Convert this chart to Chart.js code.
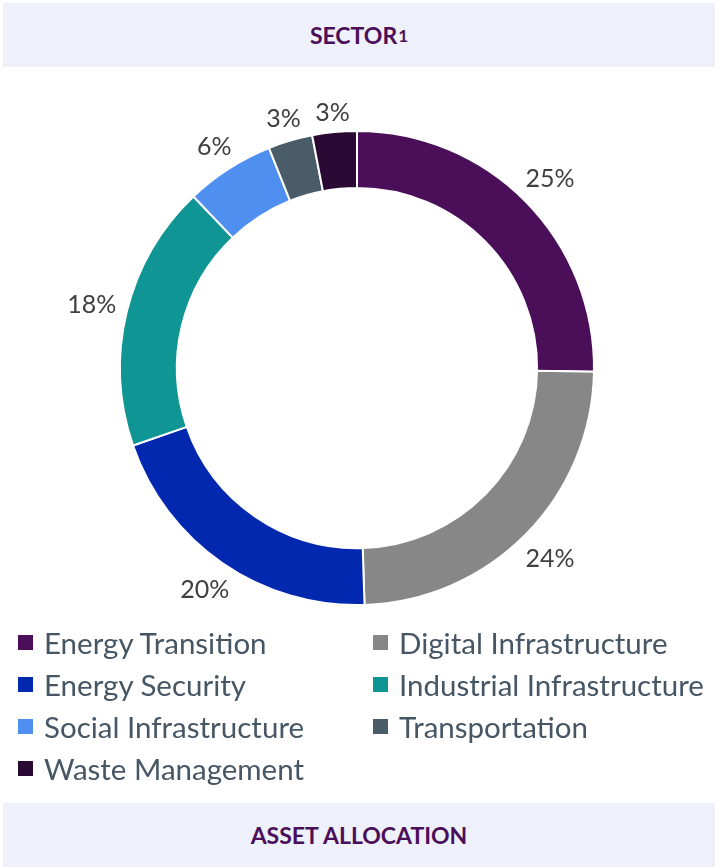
<!DOCTYPE html>
<html>
<head>
<meta charset="utf-8">
<script src="https://cdn.jsdelivr.net/npm/chart.js@4.4.1/dist/chart.umd.min.js"></script>
<style>
  body { margin: 0; background: #fff; font-family: Lato, "Open Sans", sans-serif; }
  #wrap { position: relative; width: 718px; height: 867px; overflow: hidden; }
  .band { position: absolute; left: 3px; width: 712px; height: 64px; background: #eef0fa;
          display: flex; align-items: center; justify-content: center;
          color: #4b0f5a; font-weight: bold; font-size: 23px; }
  .band sup { font-size: 17px; vertical-align: 8px; margin-left: 1px; }
  #top { top: 3px; }
  #bottom { top: 803px; }
  #chartBox { position: absolute; left: 0; top: 68px; width: 714px; height: 600px; }
  #legend { position: absolute; left: 18px; top: 621px; width: 700px;
            display: grid; grid-template-columns: 355px 345px; row-gap: 0; }
  .item { display: flex; align-items: center; height: 42px; font-size: 29.5px; color: #465664; white-space: nowrap; }
  .sw { width: 15px; height: 15px; margin-right: 11px; flex: none; }
</style>
</head>
<body>
<div id="wrap">
  <div class="band" id="top">SECTOR<sup>1</sup></div>
  <div id="chartBox"><canvas id="chart"></canvas></div>
  <div id="legend"></div>
  <div class="band" id="bottom">ASSET ALLOCATION</div>
</div>
<script>
// sector weights (%)
const sectors = ['Energy Transition', 'Digital Infrastructure', 'Energy Security', 'Industrial Infrastructure',
  'Social Infrastructure', 'Transportation', 'Waste Management'];
const weights = [25, 24, 20, 18, 6, 3, 3];
const colors = ['#4b0f5a', '#878787', '#0228b0', '#0e9594', '#4f8ff0', '#4a5c68', '#2a0a35'];

// percent labels outside the ring, pushed out along the slice's middle angle
const outsideLabels = {
  id: 'outsideLabels',
  afterDatasetsDraw(chart) {
    const ctx = chart.ctx;
    const arcs = chart.getDatasetMeta(0).data;
    ctx.save();
    ctx.font = '25px Lato, "Open Sans", sans-serif';
    ctx.fillStyle = '#404040';
    ctx.textAlign = 'center';
    ctx.textBaseline = 'middle';
    arcs.forEach((arc, i) => {
      const txt = weights[i] + '%';
      const w = ctx.measureText(txt).width;
      const h = 18;
      const mid = (arc.startAngle + arc.endAngle) / 2;
      const c = Math.cos(mid), s = Math.sin(mid);
      const r = arc.outerRadius + 10 + w / 2 * Math.abs(c) + h / 2 * Math.abs(s);
      ctx.fillText(txt, arc.x + c * r, arc.y + s * r + 1);
    });
    ctx.restore();
  }
};

new Chart(document.getElementById('chart'), {
  type: 'doughnut',
  data: {
    labels: sectors,
    datasets: [{
      data: weights,
      backgroundColor: colors,
      borderColor: '#ffffff',
      borderWidth: 2,
      hoverOffset: 0
    }]
  },
  options: {
    responsive: true,
    maintainAspectRatio: false,
    animation: false,
    radius: 237,
    cutout: '76%',
    layout: { padding: 0 },
    plugins: {
      legend: { display: false },
      tooltip: { enabled: false }
    }
  },
  plugins: [outsideLabels]
});

// html legend, two columns
const legend = document.getElementById('legend');
sectors.forEach((name, i) => {
  const item = document.createElement('div');
  item.className = 'item';
  item.innerHTML = '<span class="sw" style="background:' + colors[i] + '"></span>' + name;
  legend.appendChild(item);
});
</script>
</body>
</html>
